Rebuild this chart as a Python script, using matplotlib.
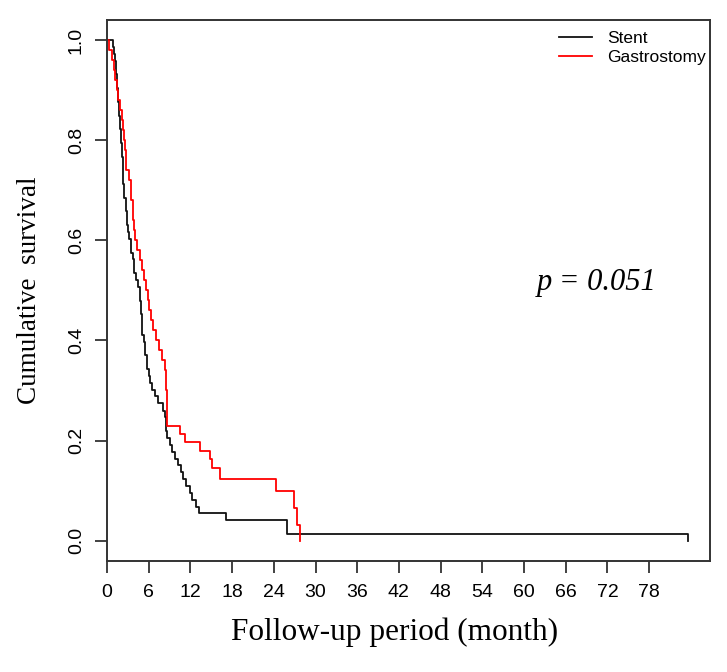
import matplotlib
matplotlib.use('Agg')
import matplotlib.pyplot as plt
import numpy as np

# Kaplan-Meier steps (time in months, survival after each drop)
stent_time = [0, 0.9, 1.0, 1.15, 1.3, 1.4, 1.55, 1.7, 1.8, 2.0, 2.1, 2.25, 2.35, 2.5, 2.7,
              2.85, 3.0, 3.2, 3.4, 3.7, 3.9, 4.2, 4.4, 4.75, 4.9, 5.0, 5.1, 5.3, 5.5, 5.7,
              6.0, 6.2, 6.5, 6.9, 7.4, 8.0, 8.3, 8.5, 8.55, 8.6, 9.0, 9.4, 9.8, 10.2, 10.6,
              11.0, 11.4, 11.9, 12.3, 12.8, 13.3, 17.1, 25.9, 83.6]
stent_surv = [1.0, 0.986, 0.973, 0.959, 0.932, 0.904, 0.877, 0.849, 0.822, 0.795, 0.767,
              0.740, 0.712, 0.685, 0.658, 0.630, 0.616, 0.603, 0.575, 0.562, 0.534, 0.521,
              0.507, 0.479, 0.452, 0.438, 0.411, 0.397, 0.370, 0.342, 0.329, 0.315, 0.301,
              0.288, 0.274, 0.260, 0.247, 0.233, 0.219, 0.205, 0.192, 0.178, 0.164, 0.151,
              0.137, 0.123, 0.110, 0.096, 0.082, 0.068, 0.055, 0.041, 0.014, 0.0]

gastro_time = [0, 0.3, 0.7, 1.0, 1.2, 1.4, 1.6, 1.9, 2.1, 2.3, 2.45, 2.6, 2.7, 2.8, 3.1,
               3.4, 3.5, 3.7, 3.8, 3.85, 4.1, 4.3, 4.7, 5.0, 5.3, 5.6, 5.9, 6.1, 6.4, 6.6,
               7.1, 7.5, 7.9, 8.4, 8.5, 8.6, 8.65, 10.5, 11.2, 13.4, 14.8, 15.1, 16.2, 24.3,
               26.9, 27.4, 27.8]
gastro_surv = [1.0, 0.98, 0.96, 0.94, 0.92, 0.90, 0.88, 0.86, 0.84, 0.82, 0.80, 0.78, 0.76,
               0.74, 0.72, 0.70, 0.68, 0.66, 0.64, 0.62, 0.60, 0.58, 0.56, 0.54, 0.52, 0.50,
               0.48, 0.46, 0.44, 0.42, 0.40, 0.38, 0.36, 0.34, 0.30, 0.26, 0.229, 0.214,
               0.198, 0.179, 0.163, 0.145, 0.123, 0.100, 0.066, 0.032, 0.0]

x_ticks = list(range(0, 79, 6))
y_ticks = [0.0, 0.2, 0.4, 0.6, 0.8, 1.0]
group_names = ['Stent', 'Gastrostomy']
p_text = 'p = 0.051'

sans = 'Liberation Sans'
serif = 'Liberation Serif'
box_color = '#333333'

fig = plt.figure(figsize=(7.27, 6.72), dpi=100)
ax = fig.add_axes([107 / 727, 1 - 560.7 / 672, 603 / 727, 540.7 / 672])

ax.step(stent_time, stent_surv, where='post', color='#111111', linewidth=1.3, label=group_names[0])
ax.step(gastro_time, gastro_surv, where='post', color='red', linewidth=1.3, label=group_names[1])

ax.set_xlim(0, 86.76)
ax.set_ylim(-0.04, 1.04)

ax.set_xticks(x_ticks)
ax.set_xticklabels([str(t) for t in x_ticks], fontsize=14, family=sans)
ax.set_yticks(y_ticks)
ax.set_yticklabels(['{:.1f}'.format(v) for v in y_ticks], fontsize=14, family=sans,
                   rotation=90, va='center')
ax.tick_params(axis='x', length=8.5, width=1.3, color=box_color, pad=8)
ax.tick_params(axis='y', length=9, width=1.3, color=box_color, pad=7)

for sp in ax.spines.values():
    sp.set_color(box_color)
    sp.set_linewidth(1.4)

# axis titles, placed where the reference has them
ax.set_xlabel('Follow-up period (month)', fontsize=22.5, family=serif)
ax.xaxis.set_label_coords(0.4776, -0.132)
ax.xaxis.label.set_va('center')
ax.set_ylabel('Cumulative  survival', fontsize=19.5, family=serif)
ax.yaxis.set_label_coords(-0.1277, 0.5)
ax.yaxis.label.set_va('center')

# legend without a frame, top right
ax.legend(loc='upper left', bbox_to_anchor=(0.75, 0.98), frameon=False, borderpad=0,
          borderaxespad=0, handlelength=1.9, handletextpad=0.85, labelspacing=0.25,
          prop={'family': sans, 'size': 12.5})

ax.text(0.8126, 0.5154, p_text, transform=ax.transAxes, ha='center', va='center',
        fontsize=22, family=serif, fontstyle='italic')

fig.savefig('out.png', dpi=100)
